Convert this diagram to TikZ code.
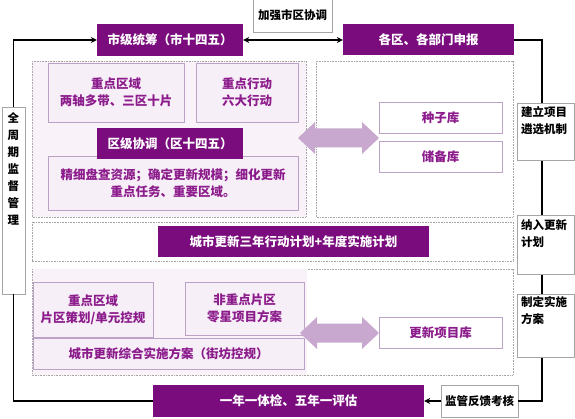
\documentclass[tikz,border=0pt]{standalone}
\usepackage{fontspec}
\setmainfont{Noto Sans CJK SC}
\usetikzlibrary{arrows.meta}
\definecolor{dpurple}{RGB}{122,12,126}
\definecolor{tpurple}{RGB}{140,28,140}
\definecolor{lfill}{RGB}{247,239,247}
\definecolor{lborder}{RGB}{188,162,198}
\definecolor{rfill}{RGB}{249,243,249}
\definecolor{afill}{RGB}{200,168,206}
\definecolor{gborder}{RGB}{165,165,165}
\tikzset{
  pbox/.style={fill=dpurple, draw=none, text=white, font=\bfseries\fontsize{12.5}{17}\selectfont, inner sep=0pt, align=center},
  lbox/.style={fill=lfill, draw=lborder, line width=0.8pt, text=tpurple, font=\bfseries\fontsize{12.5}{17}\selectfont, inner sep=0pt, align=center},
  gbox/.style={fill=white, draw=gborder, line width=0.8pt, text=black, font=\bfseries\fontsize{11.5}{17}\selectfont, inner sep=0pt, align=center},
  gtext/.style={text=black, font=\bfseries\fontsize{11.5}{17}\selectfont, inner sep=0pt, align=left, anchor=north west},
  region/.style={draw=gborder, line width=0.6pt, dash pattern=on 0.8pt off 0.8pt},
  conn/.style={draw=black, line width=1.3pt},
  connarr/.style={conn, -{Stealth[length=6pt,width=6pt]}},
  dblarr/.style={fill=afill, draw=none},
}
\begin{document}
\begin{tikzpicture}[x=1pt,y=-1pt]
\useasboundingbox (0,0) rectangle (575,419);
% regions
\fill[rfill] (32,61) rectangle (306,217);
\draw[region] (32,61) rectangle (306,217);
\draw[region, fill=white] (316,61) rectangle (513,217);
\draw[region, fill=white] (32,222) rectangle (513,261);
\draw[region, fill=white] (32,269) rectangle (513,375);
\fill[rfill] (32.5,269.5) rectangle (307,374.5);

% coordinates for connectors
\coordinate (cR) at (542,200);

% top boxes
\node[gbox, minimum width=79pt, minimum height=33pt] (jq) at (292.5,15.5) {加强市区协调};
\node[pbox, minimum width=146pt, minimum height=32pt] (sj) at (170,40) {市级统筹（市十四五）};
\node[pbox, minimum width=171pt, minimum height=31pt] (gq) at (428.5,40) {各区、各部门申报};

% bottom boxes
\node[pbox, minimum width=271pt, minimum height=32pt] (yn) at (288.5,401) {一年一体检、五年一评估};
\node[gbox, minimum width=77pt, minimum height=32pt] (jg) at (479.5,401) {监管反馈考核};

% connectors (drawn before side boxes)
\draw[conn] (gq.east) -| (cR) |- (jg.east);
\draw[connarr] (jg.west) -- (yn.east);
\draw[conn, {Stealth[length=6pt,width=6pt]}-{Stealth[length=6pt,width=6pt]}] (sj.east) -- (gq.west);

% left box
\node[gbox, minimum width=23pt, minimum height=187pt] (qz) at (13.5,200.5) {};
\node[gtext, anchor=center, align=center, font=\bfseries\fontsize{11.5}{17}\selectfont] (qzt) at (13.5,168.5) {全\\周\\期\\监\\督\\管\\理};
\draw[connarr] (qz.north) |- (sj.west);
\draw[conn] (qz.south) |- (yn.west);

% right boxes
\node[gbox, minimum width=57pt, minimum height=57pt] (jl) at (545.5,131.5) {};
\node[gtext] (jlt) at (521,106) {建立项目\\遴选机制};
\node[gbox, minimum width=57pt, minimum height=59pt] (nr) at (545.5,244.5) {};
\node[gtext] (nrt) at (521,219) {纳入更新\\计划};
\node[gbox, minimum width=57pt, minimum height=63pt] (zd) at (545.5,325.5) {};
\node[gtext] (zdt) at (521,296) {制定实施\\方案};

% top-left region contents
\node[lbox, minimum width=136pt, minimum height=59pt] (zq1) at (116,92.5) {重点区域\\两轴多带、三区十片};
\node[lbox, minimum width=102pt, minimum height=59pt] (zx) at (247,92.5) {重点行动\\六大行动};
\node[lbox, minimum width=250pt, minimum height=54pt] (jx) at (173,183.5) {\raisebox{0pt}{精细盘查资源；确定更新规模；细化更新}\\重点任务、重要区域。};
\node[pbox, minimum width=146pt, minimum height=31pt] (qj) at (170,143.5) {区级协调（区十四五）};

% top-right region contents
\node[lbox, fill=white, minimum width=123pt, minimum height=31pt] (zz) at (440.5,117.5) {种子库};
\node[lbox, fill=white, minimum width=123pt, minimum height=31pt] (cb) at (440.5,156.5) {储备库};
\fill[dblarr] (298,138) -- (315,122) -- (315,128.5) -- (362,128.5) -- (362,122) -- (379,138) -- (362,154) -- (362,147.5) -- (315,147.5) -- (315,154) -- cycle;

% middle band
\node[pbox, minimum width=271pt, minimum height=31pt] (cs) at (293.5,241.5) {城市更新三年行动计划+年度实施计划};

% bottom region contents
\node[lbox, minimum width=120pt, minimum height=55pt] (pq) at (93,309.5) {重点区域\\片区策划/单元控规};
\node[lbox, minimum width=119pt, minimum height=53pt] (fz) at (244.5,308.5) {非重点片区\\零星项目方案};
\node[lbox, minimum width=271pt, minimum height=31pt] (zh) at (168.5,353.5) {城市更新综合实施方案（街坊控规）};
\node[lbox, fill=white, minimum width=123pt, minimum height=31pt] (gx) at (440.5,332.5) {更新项目库};
\fill[dblarr] (300,333) -- (317,317) -- (317,323.5) -- (362,323.5) -- (362,317) -- (379,333) -- (362,349) -- (362,342.5) -- (317,342.5) -- (317,349) -- cycle;
\end{tikzpicture}
\end{document}
